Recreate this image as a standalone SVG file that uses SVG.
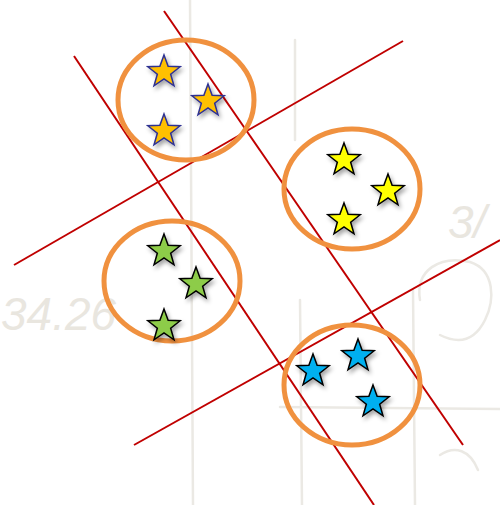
<svg xmlns="http://www.w3.org/2000/svg" width="500" height="505" viewBox="0 0 500 505">
<style>
.bg{stroke:#ebe9e4;stroke-width:2.5;fill:none;stroke-linecap:round}
.bgt{fill:#e9e6df;font-family:"Liberation Sans",Arial,sans-serif;font-style:italic;font-size:46px}
.sep{stroke:#c00000;stroke-width:2;fill:none}
.ring{stroke:#f0913f;stroke-width:5;fill:none}
.s-orange{fill:#ffc000;stroke:#2e3192;stroke-width:1.5}
.s-yellow{fill:#ffff00;stroke:#000;stroke-width:1.5}
.s-green{fill:#8dcc48;stroke:#000;stroke-width:1.5}
.s-blue{fill:#00b0f0;stroke:#000;stroke-width:1.5}
</style>
<defs>
<path id="star" d="M0,-17 L4.11,-5.66 L16.17,-5.25 L6.66,2.16 L9.99,13.75 L0,7 L-9.99,13.75 L-6.66,2.16 L-16.17,-5.25 L-4.11,-5.66 Z" stroke-linejoin="miter"/>
<filter id="sh" x="-50%" y="-50%" width="200%" height="200%">
<feDropShadow dx="2" dy="3" stdDeviation="2" flood-color="#000" flood-opacity="0.35"/>
</filter>
</defs>
<rect width="500" height="505" fill="#ffffff"/>
<g id="background">
<line class="bg" x1="190" y1="0" x2="193" y2="505" stroke-width="3"/>
<line class="bg" x1="295" y1="40" x2="295" y2="140"/>
<line class="bg" x1="300" y1="300" x2="302" y2="505"/>
<line class="bg" x1="413" y1="290" x2="415" y2="505"/>
<line class="bg" x1="280" y1="407" x2="500" y2="409"/>
<path class="bg" d="M420,300 C415,270 440,255 470,262 C495,270 495,300 485,320 C475,340 460,345 440,335"/>
<path class="bg" d="M440,455 C455,445 470,450 478,470"/>
<text class="bgt" x="1" y="330">34.26</text>
<text class="bgt" x="448" y="238" font-size="26">3/</text>
</g>
<g id="connectors">
<line class="sep" x1="74" y1="56" x2="374" y2="505"/>
<line class="sep" x1="164" y1="11" x2="463" y2="445"/>
<line class="sep" x1="14" y1="265" x2="403" y2="41"/>
<line class="sep" x1="134" y1="445" x2="500" y2="240"/>
</g>
<g id="cluster-orange">
<ellipse class="ring" cx="186" cy="100" rx="68" ry="60"/>
<use href="#star" class="s-orange" filter="url(#sh)" x="164" y="72"/>
<use href="#star" class="s-orange" filter="url(#sh)" x="208" y="101"/>
<use href="#star" class="s-orange" filter="url(#sh)" x="164" y="131"/>
</g>
<g id="cluster-yellow">
<ellipse class="ring" cx="352" cy="189" rx="68" ry="60"/>
<use href="#star" class="s-yellow" filter="url(#sh)" x="344" y="160"/>
<use href="#star" class="s-yellow" filter="url(#sh)" x="388" y="191"/>
<use href="#star" class="s-yellow" filter="url(#sh)" x="344" y="220"/>
</g>
<g id="cluster-green">
<ellipse class="ring" cx="172" cy="281" rx="68" ry="60"/>
<use href="#star" class="s-green" filter="url(#sh)" x="164" y="251"/>
<use href="#star" class="s-green" filter="url(#sh)" x="196" y="284"/>
<use href="#star" class="s-green" filter="url(#sh)" x="164" y="326"/>
</g>
<g id="cluster-blue">
<ellipse class="ring" cx="352" cy="385" rx="68" ry="60"/>
<use href="#star" class="s-blue" filter="url(#sh)" x="313" y="371"/>
<use href="#star" class="s-blue" filter="url(#sh)" x="358" y="356"/>
<use href="#star" class="s-blue" filter="url(#sh)" x="373" y="402"/>
</g>
</svg>
